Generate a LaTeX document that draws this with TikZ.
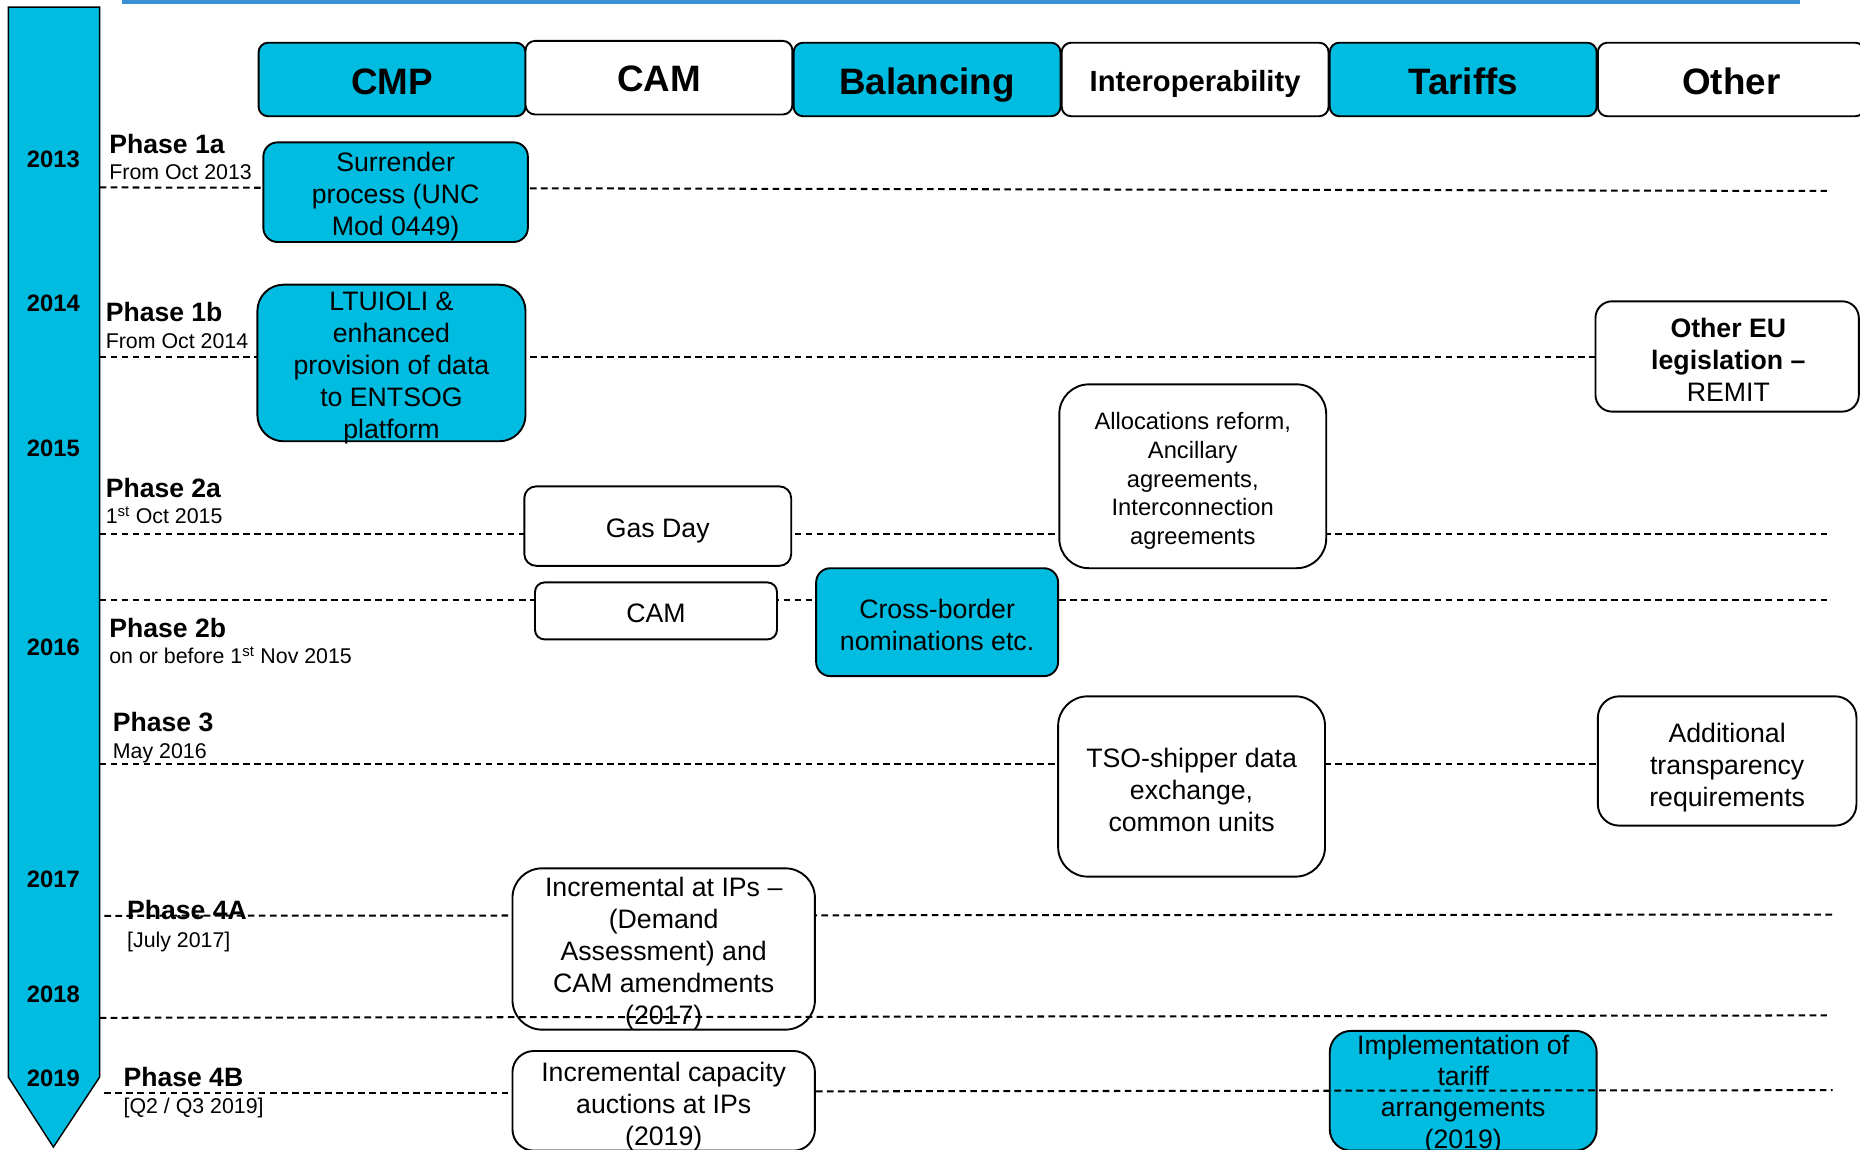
\documentclass[tikz,border=0pt]{standalone}
\usepackage{fontspec}
\setmainfont{Liberation Sans}
\definecolor{cyanf}{RGB}{0,188,224}
\definecolor{topblue}{RGB}{58,144,214}
\begin{document}
\begin{tikzpicture}[x=1pt,y=-1pt,
  hdr/.style={draw=black, line width=1.6pt, rounded corners=8pt, minimum width=225pt, minimum height=62pt, inner sep=0pt, text height=26pt, text depth=0pt, font=\fontsize{31}{37}\selectfont\bfseries},
  cbox/.style={draw=black, line width=1.6pt, fill=cyanf, inner sep=0pt},
  wbox/.style={draw=black, line width=1.6pt, fill=white, inner sep=0pt},
  boxtext/.style={align=center, inner sep=0pt, font=\fontsize{22.5}{27}\selectfont},
  smalltext/.style={align=center, inner sep=0pt, font=\fontsize{20}{24.3}\selectfont},
  dl/.style={dash pattern=on 5.6pt off 3.7pt, line width=1.7pt},
  year/.style={inner sep=0pt, font=\fontsize{20}{24}\selectfont\bfseries},
  phase/.style={anchor=base west, inner sep=0pt, font=\fontsize{22.4}{26}\selectfont\bfseries},
  pdate/.style={anchor=base west, inner sep=0pt, font=\fontsize{18}{22}\selectfont}]
\useasboundingbox (0,0) rectangle (1568,969);

% top blue line
\draw[topblue, line width=3pt] (103,1.5) -- (1517,1.5);

% timeline arrow
\draw[fill=cyanf, line width=1.2pt, line join=miter] (7,6) -- (84,6) -- (84,908) -- (45,967) -- (7,908) -- cycle;
\node[year] (y2013) at (45,134) {2013};
\node[year] (y2014) at (45,256) {2014};
\node[year] (y2015) at (45,378) {2015};
\node[year] (y2016) at (45,546) {2016};
\node[year] (y2017) at (45,741) {2017};
\node[year] (y2018) at (45,838) {2018};
\node[year] (y2019) at (45,909) {2019};

% headers
\node[hdr, fill=cyanf] (hcmp) at (330.5,67) {CMP};
\node[hdr, fill=white, text height=24pt] (hcam) at (555.5,65.5) {CAM};
\node[hdr, fill=cyanf] (hbal) at (781.5,67) {Balancing};
\node[hdr, fill=white, text height=21pt, font=\fontsize{24.6}{29}\selectfont\bfseries] (hint) at (1007.5,67) {Interoperability};
\node[hdr, fill=cyanf] (htar) at (1233.5,67) {Tariffs};
\node[hdr, fill=white] (hoth) at (1459.5,67) {Other};

% dashed phase lines (under boxes)
\draw[dl] (84,158) -- (1540,161);
\draw[dl] (84,301) -- (1345,301);
\draw[dl] (84,450) -- (1540,450);
\draw[dl] (84,506) -- (1540,506);
\draw[dl] (84,644) -- (1347,644);
\draw[dl] (88,772) -- (1545,771);

% phase labels
\node[phase] (p1a) at (92,129) {Phase 1a};
\node[pdate] (p1ad) at (92,151.5) {From Oct 2013};
\node[phase] (p1b) at (89,271) {Phase 1b};
\node[pdate] (p1bd) at (89,293.5) {From Oct 2014};
\node[phase] (p2a) at (89,419) {Phase 2a};
\node[pdate] (p2ad) at (89,441.5) {1\textsuperscript{st} Oct 2015};
\node[phase] (p2b) at (92,537) {Phase 2b};
\node[pdate] (p2bd) at (92,559.5) {on or before 1\textsuperscript{st} Nov 2015};
\node[phase] (p3) at (95,617) {Phase 3};
\node[pdate] (p3d) at (95,639.5) {May 2016};
\node[phase] (p4a) at (107,775) {Phase 4A};
\node[pdate] (p4ad) at (107,798.5) {[July 2017]};
\node[phase] (p4b) at (104,916) {Phase 4B};
\node[pdate] (p4bd) at (104,938.5) {[Q2 / Q3 2019]};

% content boxes
\node[cbox, rounded corners=12pt, minimum width=223pt, minimum height=84pt] (surr) at (333.5,162) {};
\node[boxtext] (surrT) at (333.5,166) {Surrender\\process (UNC\\Mod 0449)};

\node[cbox, rounded corners=22pt, minimum width=226pt, minimum height=132pt] (ltu) at (330,306) {};
\node[boxtext] (ltuT) at (330,310.5) {LTUIOLI \&\\enhanced\\provision of data\\to ENTSOG\\platform};

\node[wbox, rounded corners=14pt, minimum width=222pt, minimum height=93pt] (oeu) at (1456,300.5) {};
\node[boxtext] (oeuT) at (1457,303.5) {\textbf{Other EU}\\\textbf{legislation –}\\REMIT};

\node[wbox, rounded corners=25pt, minimum width=225pt, minimum height=155pt] (alloc) at (1005.5,401.5) {};
\node[smalltext] (allocT) at (1005.5,405.5) {Allocations reform,\\Ancillary\\agreements,\\Interconnection\\agreements};

\node[wbox, rounded corners=10pt, minimum width=225pt, minimum height=67pt] (gas) at (554.5,443.5) {};
\node[boxtext] (gasT) at (554.5,448) {Gas Day};

\node[wbox, rounded corners=8pt, minimum width=204pt, minimum height=48pt] (cams) at (553,515) {};
\node[boxtext] (camsT) at (553,517) {CAM};

\node[cbox, rounded corners=12pt, minimum width=204pt, minimum height=91pt] (cross) at (790,524.5) {};
\node[boxtext] (crossT) at (790,526.5) {Cross-border\\nominations etc.};

\node[wbox, rounded corners=25pt, minimum width=225pt, minimum height=152pt] (tso) at (1004.5,663) {};
\node[boxtext] (tsoT) at (1004.5,666) {TSO-shipper data\\exchange,\\common units};

\node[wbox, rounded corners=18pt, minimum width=218pt, minimum height=109pt] (addl) at (1456,641.5) {};
\node[boxtext] (addlT) at (1456,647) {Additional\\transparency\\requirements};

\node[wbox, rounded corners=25pt, minimum width=255pt, minimum height=136pt] (inc1) at (559.5,800) {};
\node[boxtext] (inc1T) at (559.5,804) {Incremental at IPs –\\(Demand\\Assessment) and\\CAM amendments\\(2017)};

\node[wbox, rounded corners=18pt, minimum width=255pt, minimum height=84pt] (inc2) at (559.5,928) {};
\node[boxtext] (inc2T) at (559.5,932.5) {Incremental capacity\\auctions at IPs\\(2019)};

\node[cbox, rounded corners=18pt, minimum width=225pt, minimum height=101pt] (impl) at (1233.5,919.5) {};
\node[boxtext, font=\fontsize{22.5}{26.3}\selectfont] (implT) at (1233.5,922.5) {Implementation of\\tariff\\arrangements\\(2019)};

% dashed lines drawn over boxes
\draw[dl] (84,858) -- (1540,856);
\draw[dl] (88,921) -- (inc2.west |- 0,921);
\draw[dl] (inc2.east |- 0,920) -- (1545,919);
\end{tikzpicture}
\end{document}
